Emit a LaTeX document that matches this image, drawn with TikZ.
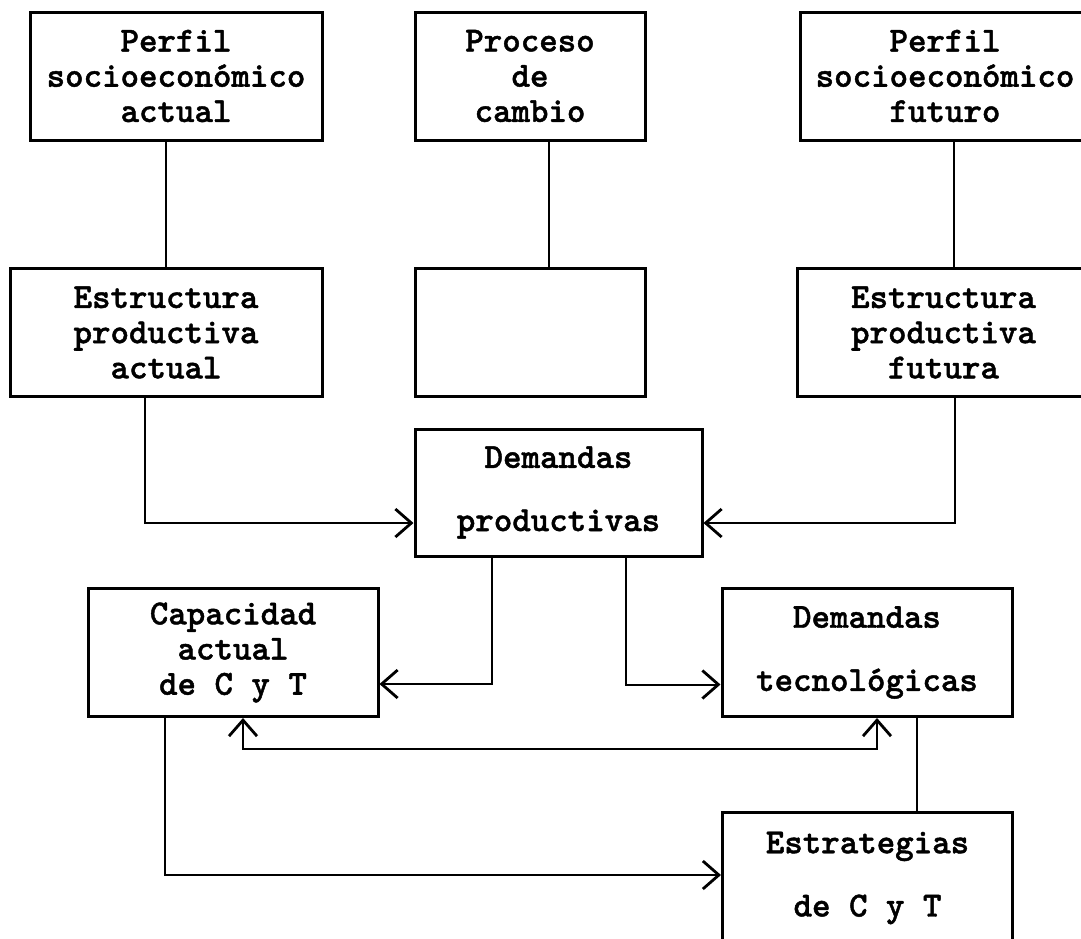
\documentclass[tikz,border=0pt]{standalone}
\usepackage{fontspec}
\newfontfamily\maqfont{lmmono10-regular.otf}[BoldFont=lmmonolt10-bold.otf, BoldFeatures={FakeBold=1.2}]
\usetikzlibrary{arrows.meta}

\begin{document}
\begin{tikzpicture}[x=0.5pt, y=-0.5pt,
    caja/.style={draw, line width=1.5pt, minimum width=145pt, minimum height=64pt,
                 align=center, inner sep=0pt, font=\maqfont\bfseries\fontsize{17.6}{17.6}\selectfont},
    linea/.style={line width=1pt},
    flecha/.style={line width=1pt, -{Straight Barb[length=8pt, width=14pt, line width=1.4pt]}},
    flechas/.style={line width=1pt, {Straight Barb[length=8pt, width=14pt, line width=1.4pt]}-{Straight Barb[length=8pt, width=14pt, line width=1.4pt]}}]
    \clip (0,0) rectangle (1081,938);
    \fill[white] (0,0) rectangle (1081,938);

    % fila superior
    \node[caja, minimum width=146pt] (pact) at (176,76) {Perfil\\socioeconómico\\actual};
    \node[caja, minimum width=115pt] (proc) at (530,76) {Proceso\\de\\cambio};
    \node[caja] (pfut) at (945,76) {Perfil\\socioeconómico\\futuro};

    \node[caja, minimum width=156pt] (eact) at (166,332.5) {Estructura\\productiva\\actual};
    \node[caja, minimum width=115pt] (vacio) at (530,332.5) {};
    \node[caja, minimum width=146.5pt] (efut) at (943.5,332.5) {Estructura\\productiva\\futura};

    \node[caja, minimum width=143.5pt, minimum height=63.5pt] (dprod) at (558.5,492.5) {Demandas\\[14pt]productivas};

    \node[caja] (cap) at (233,652.5) {Capacidad\\actual\\de C y T};
    \node[caja] (dtec) at (867,652.5) {Demandas\\[14pt]tecnológicas};

    \node[caja, minimum height=66pt] (estr) at (867.5,878) {Estrategias\\[14pt]de C y T};

    % uniones
    \draw[linea] (eact.north) -- (eact.north |- pact.south);
    \draw[linea] ([xshift=9.5pt]vacio.north) -- ([xshift=9.5pt]vacio.north |- proc.south);
    \draw[linea] ([xshift=5pt]efut.north) -- ([xshift=5pt]efut.north |- pfut.south);

    \draw[flecha] ([xshift=-10.5pt]eact.south) |- ([yshift=-15.25pt]dprod.west);
    \draw[flecha] ([xshift=5.75pt]efut.south) |- ([yshift=-15.25pt]dprod.east);

    \draw[flecha] ([xshift=-33.25pt]dprod.south) |- ([yshift=-15.75pt]cap.east);
    \draw[flecha] ([xshift=33.75pt]dprod.south) |- ([yshift=-16pt]dtec.west);

    \draw[flechas] ([xshift=5pt]cap.south) -- ++(0,31) -| ([xshift=5pt]dtec.south);

    \draw[flecha] ([xshift=-34pt]cap.south) |- ([yshift=1.5pt]estr.west);
    \draw[linea] ([xshift=25pt]dtec.south) -- ([xshift=25pt]dtec.south |- estr.north);
\end{tikzpicture}
\end{document}
